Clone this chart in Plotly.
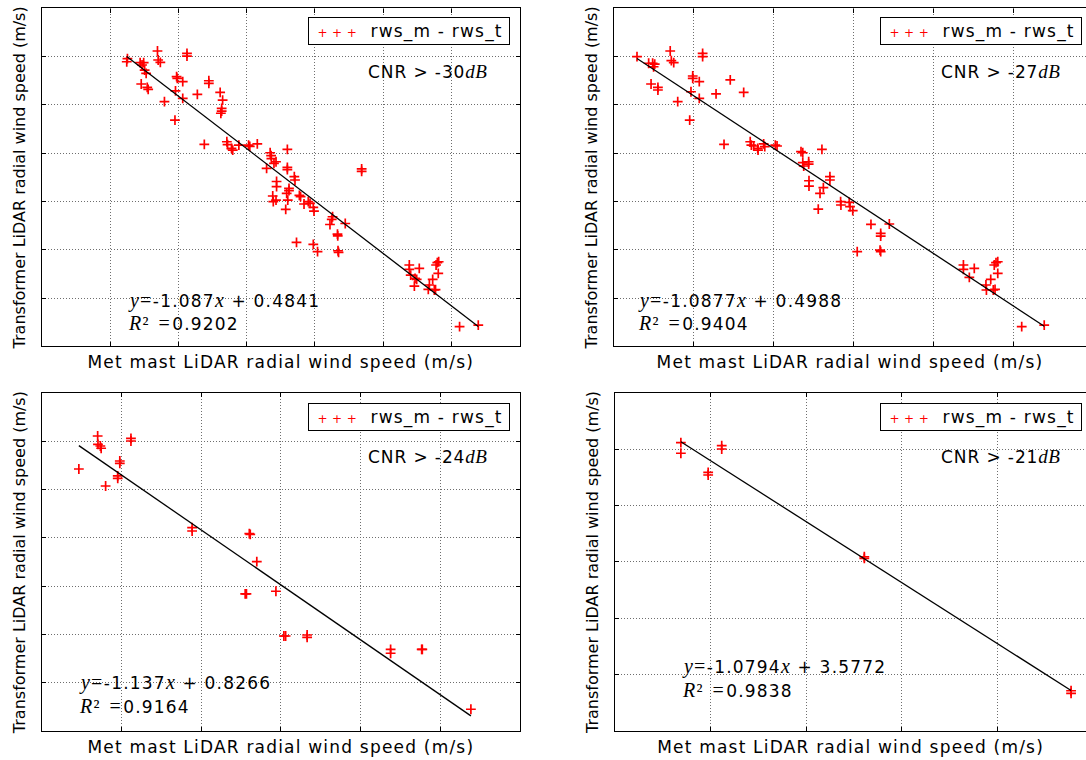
import plotly.graph_objects as go

W, H = 1086, 760

# ---------------- data (m/s) ----------------
cnr_labels = ["-30", "-27", "-24", "-21"]
slope_labels = ["-1.087", "-1.0877", "-1.137", "-1.0794"]
intercept_labels = ["0.4841", "0.4988", "0.8266", "3.5772"]
r2_labels = ["0.9202", "0.9404", "0.9164", "0.9838"]
slopes = [-1.087, -1.0877, -1.137, -1.0794]
intercepts = [0.4841, 0.4988, 0.8266, 3.5772]

x_cnr30 = [-8.78, -8.73, -7.80, -7.54, -7.66, -7.47, -7.36, -7.72, -7.28, -7.21,
           -6.53, -6.48, -6.32, -4.37, -4.37, -6.02, -5.13, -5.08, -4.68, -5.21,
           -4.68, -5.25, -3.61, -2.77, -2.77, -1.94, -1.76, -1.83, -1.83, -1.89,
           -3.10, -1.45, -1.40, -1.11, -1.02, -0.57, 0.14, 0.23, 0.78, 1.72,
           1.79, 1.81, 1.46, 2.00, 2.15, 2.98, 2.98, 2.98, 2.19, 2.19,
           3.49, 3.54, 3.10, 3.10, 2.93, 1.91, 1.95, 2.15, 3.01, 2.86,
           3.86, 3.95, 4.51, 4.64, 4.20, 4.88, 4.93, 3.65, 4.88, 5.19,
           6.29, 6.23, 6.10, 7.22, 6.65, 6.67, 6.69, 6.73, 8.42, 8.42,
           11.91, 11.91, 12.64, 12.01, 12.33, 12.45, 12.28, 13.38, 13.30, 13.62,
           13.74, 13.83, 13.87, 13.96, 14.06, 14.03, 15.59, 16.96]
y_cnr30 = [9.48, 9.81, 9.38, 9.38, 9.14, 8.62, 8.28, 7.17, 6.83, 6.62,
           10.59, 9.66, 9.42, 10.35, 10.07, 5.34, 7.93, 7.76, 7.41, 6.45,
           5.69, 3.44, 6.10, 7.51, 7.24, 6.31, 5.51, 4.65, 4.37, 4.14,
           0.92, 1.19, 0.90, 0.51, 0.33, 0.85, 0.85, 0.72, 0.96, 0.05,
           -0.24, -0.55, -1.56, -1.04, -0.88, 0.41, -1.46, -1.69, -2.93, -3.45,
           -2.43, -2.77, -3.63, -3.88, -4.15, -4.43, -5.02, -4.85, -4.85, -5.81,
           -4.36, -4.50, -5.02, -5.19, -5.26, -5.60, -5.99, -9.23, -9.44, -10.20,
           -6.58, -6.85, -7.38, -7.28, -8.37, -8.56, -10.10, -10.27, -1.63, -1.87,
           -11.58, -12.03, -11.92, -12.62, -12.96, -13.06, -13.76, -13.65, -14.10, -13.06,
           -14.17, -14.12, -11.58, -11.34, -11.24, -12.44, -17.97, -17.80]

x_cnr27 = [-8.56, -7.83, -7.58, -7.45, -7.52, -7.68, -7.25, -7.25, -6.48, -6.41,
           -6.26, -4.45, -4.45, -6.01, -5.07, -5.07, -4.66, -5.18, -4.66, -5.26,
           -3.61, -2.72, -1.88, -3.11, -1.47, -1.40, -1.25, -1.00, -0.98, -0.63,
           -0.56, 0.10, 0.21, 1.71, 1.82, 1.82, 1.88, 2.19, 2.19, 3.02,
           2.21, 2.21, 3.52, 3.52, 3.11, 2.90, 2.79, 4.19, 4.21, 4.73,
           4.78, 4.95, 6.09, 6.70, 6.70, 7.24, 5.23, 6.66, 6.70, 11.88,
           11.88, 12.56, 12.25, 13.29, 13.32, 13.59, 13.75, 13.86, 13.81, 13.92,
           14.03, 14.03, 15.53, 16.94]
y_cnr27 = [10.00, 9.32, 9.32, 9.24, 8.96, 7.17, 6.83, 6.55, 10.59, 9.59,
           9.38, 10.35, 10.00, 5.34, 8.00, 7.76, 7.41, 6.37, 5.69, 3.44,
           6.14, 7.59, 6.31, 0.92, 1.19, 0.85, 0.75, 0.51, 0.33, 0.96,
           0.68, 0.85, 0.75, 0.16, 0.05, -0.98, -1.32, -0.88, -1.12, 0.41,
           -2.85, -3.40, -2.43, -2.77, -3.57, -4.15, -5.78, -5.02, -5.36, -5.08,
           -5.54, -5.95, -7.36, -8.30, -8.58, -7.33, -10.20, -10.03, -10.20, -11.58,
           -12.03, -11.92, -12.85, -13.65, -14.17, -13.06, -14.17, -14.10, -11.58, -11.34,
           -11.24, -12.44, -17.97, -17.80]

x_cnr24 = [-7.68, -6.50, -6.48, -6.33, -6.28, -6.00, -5.24, -5.24, -5.11, -5.11,
           -4.41, -4.41, -0.57, -0.57, 3.02, 3.08, 3.49, 2.76, 2.84, 4.69,
           5.19, 5.30, 6.65, 6.65, 11.89, 11.89, 13.84, 13.88, 16.93]
y_cnr24 = [7.14, 10.56, 9.70, 9.52, 9.29, 5.38, 6.42, 6.18, 7.97, 7.73,
           10.32, 10.04, 1.06, 0.72, 0.44, 0.38, -2.46, -5.80, -5.80, -5.52,
           -10.15, -10.15, -10.05, -10.29, -11.53, -11.94, -11.53, -11.53, -17.74]

x_cnr21 = [-6.56, -6.56, -5.13, -5.13, -4.42, -4.42, 3.05, 3.05, 13.88, 13.88]
y_cnr21 = [10.58, 9.64, 7.95, 7.71, 10.31, 10.02, 0.46, 0.32, -11.43, -11.66]

xs = [x_cnr30, x_cnr27, x_cnr24, x_cnr21]
ys = [y_cnr30, y_cnr27, y_cnr24, y_cnr21]

# ---------------- layout constants (pixels) ----------------
boxes = [(41.8, 519.8, 8.44, 346.3),
         (614.0, 1086.0, 8.44, 346.3),
         (41.9, 519.8, 393.1, 731.1),
         (615.2, 1086.0, 392.85, 731.0)]
xranges = [[-15, 20], [-10, -10 + (1086 - 614.0) / 15.97],
           [-10, 20], [-10, -10 + (1086 - 615.2) / 19.09]]
yranges = [[-20, 15], [-20, 15], [-20, 15], [-15, 15]]
mirror_y = ["ticks", False, "ticks", False]
cnr_pos = [(367.7, 71), (940.5, 71), (367.7, 456), (940.5, 456)]
eq_pos = [(128.1, 300), (638.2, 300), (79.0, 682.7), (681.5, 666.7)]
leg_pos = [(307.5, 30.9), (879.6, 30.9), (307.5, 416.9), (879.6, 416.9)]

FONT = "DejaVu Sans"
GRID = "#6e6e6e"
LS = 1.2


def px(xp):
    return xp / W


def py(yp):
    return 1 - yp / H


def seg(t, serif=False, italic=False, size=None, ls=LS, color=None):
    st = [f"letter-spacing:{ls}px"]
    if serif:
        st.append("font-family:Liberation Serif")
        st.append(f"font-size:{size or 20}px")
    elif size:
        st.append(f"font-size:{size}px")
    if italic:
        st.append("font-style:italic")
    if color:
        st.append(f"color:{color}")
    return f'<span style="{";".join(st)}">{t}</span>'


fig = go.Figure()
annotations = []
layout = {}

for i in range(4):
    sfx = "" if i == 0 else str(i + 1)
    x0, x1, y0, y1 = boxes[i]
    fig.add_trace(go.Scatter(
        x=xs[i], y=ys[i], mode="markers", name="rws_m - rws_t",
        xaxis="x" + sfx, yaxis="y" + sfx, showlegend=False,
        marker=dict(symbol="cross-thin", size=7, color="#ff0000",
                    line=dict(color="#ff0000", width=1.7)),
        hoverinfo="skip"))
    xl = [min(xs[i]), max(xs[i])]
    yl = [slopes[i] * v + intercepts[i] for v in xl]
    fig.add_trace(go.Scatter(
        x=xl, y=yl, mode="lines", xaxis="x" + sfx, yaxis="y" + sfx,
        showlegend=False, line=dict(color="black", width=1.3), hoverinfo="skip"))

    common = dict(showgrid=True, gridcolor=GRID, gridwidth=1, griddash="1px,2px",
                  dtick=5, tick0=0, ticks="inside", ticklen=4, tickwidth=1,
                  tickcolor="black", showticklabels=False, showline=True,
                  linecolor="black", linewidth=1.3, zeroline=False,
                  automargin=False, fixedrange=True)
    layout["xaxis" + sfx] = dict(
        common, domain=[px(x0), px(x1)], range=xranges[i], anchor="y" + sfx,
        mirror="ticks",
        title=dict(text=seg("Met mast LiDAR radial wind speed (m/s)"),
                   font=dict(family=FONT, size=17, color="black"), standoff=9))
    layout["yaxis" + sfx] = dict(
        common, domain=[py(y1), py(y0)], range=yranges[i], anchor="x" + sfx,
        mirror=mirror_y[i],
        title=dict(text="Transformer LiDAR radial wind speed (m/s)",
                   font=dict(family=FONT, size=16, color="black"), standoff=11))

    cx, cy = cnr_pos[i]
    annotations.append(dict(
        xref="paper", yref="paper", x=px(cx), y=py(cy), xanchor="left", yanchor="middle",
        showarrow=False, borderpad=0, borderwidth=0,
        text=seg(f"CNR &gt; {cnr_labels[i]}", ls=0.9) + seg("dB", serif=True, italic=True, size=19, ls=0.5),
        font=dict(family=FONT, size=17, color="black")))

    ex, ey = eq_pos[i]
    annotations.append(dict(
        xref="paper", yref="paper", x=px(ex), y=py(ey), xanchor="left", yanchor="middle",
        showarrow=False, borderpad=0, borderwidth=0,
        text=(seg("y", serif=True, italic=True) + seg("=", serif=True, ls=1.5)
              + seg(slope_labels[i]) + seg("x", serif=True, italic=True)
              + seg(" + " + intercept_labels[i])),
        font=dict(family=FONT, size=17, color="black")))
    annotations.append(dict(
        xref="paper", yref="paper", x=px(ex), y=py(ey + 23), xanchor="left", yanchor="middle",
        showarrow=False, borderpad=0, borderwidth=0,
        text=(seg("R", serif=True, italic=True) + seg("\u00b2 =", serif=True, ls=2.5)
              + seg(r2_labels[i])),
        font=dict(family=FONT, size=17, color="black")))

    lx, ly = leg_pos[i]
    annotations.append(dict(
        xref="paper", yref="paper", x=px(lx), y=py(ly), xanchor="left", yanchor="middle",
        showarrow=False, width=200, height=26, align="left", valign="middle",
        bgcolor="white", bordercolor="black", borderwidth=1, borderpad=0,
        text=(seg("&nbsp;&nbsp;+&nbsp;+&nbsp;+", size=12, ls=0.4, color="#ff0000")
              + seg("&nbsp;&nbsp;rws_m - rws_t")),
        font=dict(family=FONT, size=17, color="black")))

fig.update_layout(
    width=W, height=H, margin=dict(l=0, r=0, t=0, b=0),
    paper_bgcolor="white", plot_bgcolor="white",
    font=dict(family=FONT, size=16, color="black"),
    showlegend=False, annotations=annotations, **layout)

fig.write_html("out.html", config={"displayModeBar": False},
               post_script="document.body.style.margin='0';")
